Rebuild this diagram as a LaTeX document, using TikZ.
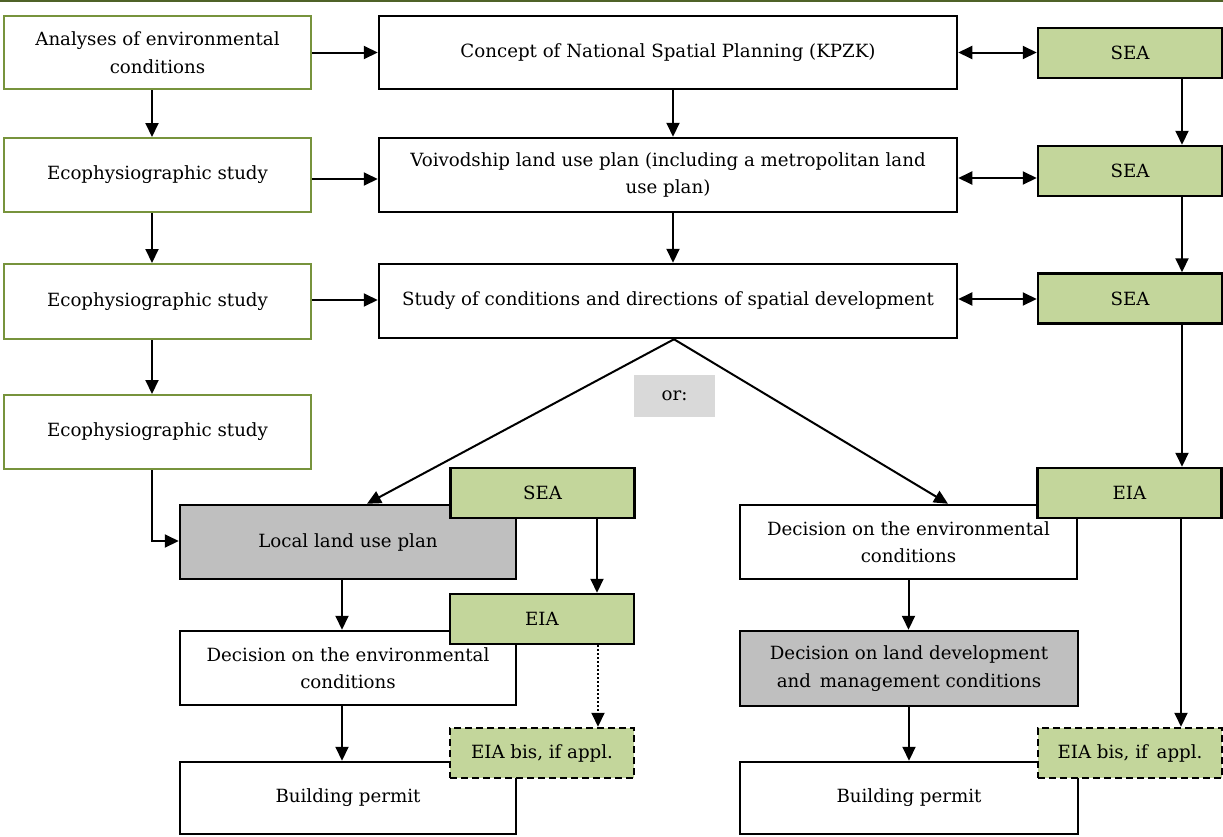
\documentclass[tikz,border=0pt]{standalone}
\usepackage{fontspec}
\setmainfont{DejaVu Serif}
\usetikzlibrary{arrows.meta}
\definecolor{sgreen}{HTML}{C3D69B}
\definecolor{sgray}{HTML}{BFBFBF}
\definecolor{lgray}{HTML}{D9D9D9}
\definecolor{bgreen}{HTML}{77933C}
\definecolor{tline}{HTML}{4F6228}
\tikzset{
  base/.style={rectangle, inner sep=2pt, align=center, font=\fontsize{18.2}{27.5}\selectfont, text=black},
  leftbox/.style={base, draw=bgreen, line width=2pt, fill=white},
  mainbox/.style={base, draw=black, line width=2.5pt, fill=white},
  graybox/.style={mainbox, fill=sgray},
  greenbox/.style={base, draw=black, line width=2.5pt, fill=sgreen, minimum width=184pt, minimum height=50pt},
  dashbox/.style={greenbox, dash pattern=on 7pt off 4pt},
  orbox/.style={base, fill=lgray, minimum width=81pt, minimum height=42pt},
  arr/.style={line width=2pt, -{Triangle[length=14pt,width=13pt]}},
  darr/.style={line width=2pt, {Triangle[length=14pt,width=13pt]}-{Triangle[length=14pt,width=13pt]}},
  dotarr/.style={arr, dash pattern=on 2pt off 2pt},
}
\begin{document}
\begin{tikzpicture}[x=1pt,y=-1pt]
\useasboundingbox (0,0) rectangle (1223,836);
\draw[tline, line width=2.5pt] (0,1) -- (1223,1);

% left column
\node[leftbox, minimum width=307pt, minimum height=73pt] (A1) at (157.5,52.5) {Analyses of environmental\\conditions};
\node[leftbox, minimum width=307pt, minimum height=74pt] (A2) at (157.5,175) {Ecophysiographic study};
\node[leftbox, minimum width=307pt, minimum height=75pt] (A3) at (157.5,301.5) {Ecophysiographic study};
\node[leftbox, minimum width=307pt, minimum height=74pt] (A4) at (157.5,432) {Ecophysiographic study};

% centre column
\node[mainbox, minimum width=578pt, minimum height=73pt] (C1) at (668,52.5) {Concept of National Spatial Planning (KPZK)};
\node[mainbox, minimum width=578pt, minimum height=74pt] (C2) at (668,175) {Voivodship land use plan (including a metropolitan land\\use plan)};
\node[mainbox, minimum width=578pt, minimum height=74pt] (C3) at (668,301) {Study of conditions and directions of spatial development};

% right SEA column
\node[greenbox] (S1) at (1130,53) {SEA};
\node[greenbox] (S2) at (1130,171) {SEA};
\node[greenbox] (S3) at (1130,298.5) {SEA};

\node[orbox] (or) at (674.5,396) {or:};

% lower left branch
\node[graybox, minimum width=336pt, minimum height=74pt] (L1) at (348,542) {Local land use plan};
\node[mainbox, minimum width=336pt, minimum height=74pt] (L2) at (348,668) {Decision on the environmental\\conditions};
\node[mainbox, minimum width=336pt, minimum height=72pt] (L3) at (348,798) {Building permit};
\node[greenbox] (LS) at (542.5,493) {SEA};
\node[greenbox] (LE) at (542,619) {EIA};
\node[dashbox] (LB) at (542,753) {EIA bis, if appl.};

% lower right branch
\node[mainbox, minimum width=337pt, minimum height=74pt] (R1) at (908.5,542) {Decision on the environmental\\conditions};
\node[graybox, minimum width=338pt, minimum height=75pt] (R2) at (909,668.5) {Decision on land development\\and\ \,management conditions};
\node[mainbox, minimum width=338pt, minimum height=72pt] (R3) at (909,798) {Building permit};
\node[greenbox] (RE) at (1129.5,493) {EIA};
\node[dashbox] (RB) at (1130,753) {EIA bis, if\ \,appl.};

% connectors: left column
\draw[arr] ([xshift=-5.5pt]A1.south) -- ([xshift=-5.5pt]A2.north);
\draw[arr] ([xshift=-5.5pt]A2.south) -- ([xshift=-5.5pt]A3.north);
\draw[arr] ([xshift=-5.5pt]A3.south) -- ([xshift=-5.5pt]A4.north);
\draw[arr] (A1.east) -- (A1.east -| C1.west);
\draw[arr] ([yshift=-4pt]A2.east) -- ([yshift=-4pt]A2.east -| C2.west);
\draw[arr] ([yshift=1.5pt]A3.east) -- ([yshift=1.5pt]A3.east -| C3.west);
\draw[line width=2pt, -{Triangle[length=14pt,width=13pt]}] ([xshift=-5.5pt]A4.south) |- ([yshift=1pt]L1.west);

% centre column
\draw[arr] ([xshift=5pt]C1.south) -- ([xshift=5pt]C2.north);
\draw[arr] ([xshift=5pt]C2.south) -- ([xshift=5pt]C3.north);
\draw[darr] (C1.east) -- (C1.east -| S1.west);
\draw[darr] ([yshift=-3pt]C2.east) -- ([yshift=-3pt]C2.east -| S2.west);
\draw[darr] ([yshift=2pt]C3.east) -- ([yshift=2pt]C3.east -| S3.west);

% right column
\draw[arr] ([xshift=52pt]S1.south) -- ([xshift=52pt]S2.north);
\draw[arr] ([xshift=52pt]S2.south) -- ([xshift=52pt]S3.north);
\draw[arr] ([xshift=52pt]S3.south) -- ([xshift=52.5pt]RE.north);
\draw[arr] ([xshift=51.5pt]RE.south) -- ([xshift=51pt]RB.north);

% branches
\draw[arr] ([xshift=6pt]C3.south) -- ([xshift=19pt]L1.north);
\draw[arr] ([xshift=6pt]C3.south) -- ([xshift=39.5pt]R1.north);

% lower left
\draw[arr] ([xshift=-6pt]L1.south) -- ([xshift=-6pt]L2.north);
\draw[arr] ([xshift=-6pt]L2.south) -- ([xshift=-6pt]L3.north);
\draw[arr] ([xshift=54.5pt]LS.south) -- ([xshift=55pt]LE.north);
\draw[dotarr] ([xshift=56pt]LE.south) -- ([xshift=56pt]LB.north);

% lower right
\draw[arr] (R1.south) -- (R1.south |- R2.north);
\draw[arr] (R2.south) -- (R2.south |- R3.north);
\end{tikzpicture}
\end{document}
